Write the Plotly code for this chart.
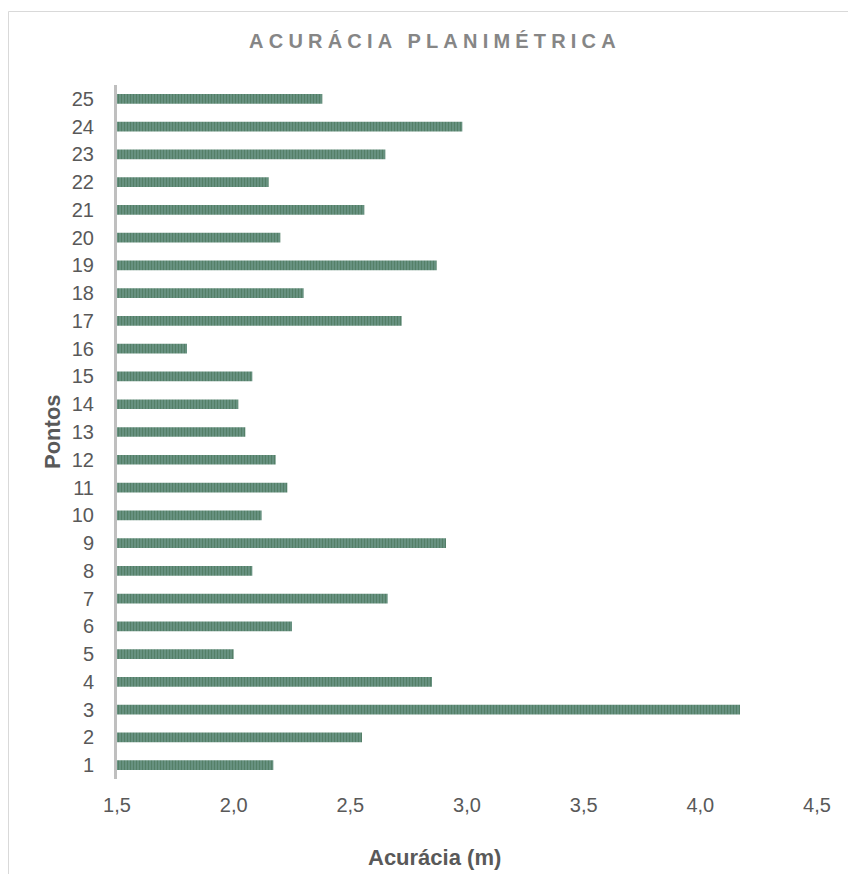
import plotly.graph_objects as go

pontos = list(range(1, 26))
acuracia = [2.17, 2.55, 4.17, 2.85, 2.00, 2.25, 2.66, 2.08, 2.91, 2.12,
            2.23, 2.18, 2.05, 2.02, 2.08, 1.80, 2.72, 2.30, 2.87, 2.20,
            2.56, 2.15, 2.65, 2.98, 2.38]
x_ticks = [1.5, 2.0, 2.5, 3.0, 3.5, 4.0, 4.5]

fig = go.Figure()
fig.add_trace(go.Bar(
    x=acuracia, y=pontos, orientation="h", width=0.35,
    marker=dict(color="#6a9484", line=dict(width=0),
                pattern=dict(shape="|", fgcolor="#3e6a4a", bgcolor="#6a9484",
                             size=3, solidity=0.45)),
    hoverinfo="x+y", showlegend=False,
))

font_fam = "Liberation Sans, Arial, sans-serif"
L, R, T, B = 117, 31, 85, 95
W, H = 848, 874
pw, ph = W - L - R, H - T - B

fig.update_layout(
    width=W, height=H,
    margin=dict(l=L, r=R, t=T, b=B),
    paper_bgcolor="white", plot_bgcolor="white",
    separators=",.",
    title=dict(text="ACURÁCIA PLANIMÉTRICA", x=435/W, xanchor="center",
               y=1 - 41/H, yanchor="middle",
               font=dict(family=font_fam, size=20, color="#868686", weight="bold")),
    font=dict(family=font_fam, color="#595959"),
)
fig.update_xaxes(range=[1.5, 4.5], tickvals=x_ticks, tickformat=".1f",
                 showgrid=False, zeroline=False, showline=False,
                 ticks="", ticklabelstandoff=12,
                 tickfont=dict(size=20, color="#595959"))
fig.update_yaxes(range=[0.5, 25.5], tickvals=pontos, showgrid=False, zeroline=False,
                 showline=True, linecolor="#bfbfbf", linewidth=3,
                 ticks="", ticklabelstandoff=16,
                 tickfont=dict(size=20, color="#595959"))

fig.add_annotation(text="Acurácia (m)", xref="paper", yref="paper",
                   x=(434 - L) / pw, y=-(858 - (H - B)) / ph,
                   xanchor="center", yanchor="middle", showarrow=False,
                   font=dict(family=font_fam, size=22, color="#595959", weight="bold"))
fig.add_annotation(text="Pontos", xref="paper", yref="paper", textangle=-90,
                   x=-(L - 52) / pw, y=0.5,
                   xanchor="center", yanchor="middle", showarrow=False,
                   font=dict(family=font_fam, size=22, color="#595959", weight="bold"))

fig.add_shape(type="rect", xref="paper", yref="paper",
              x0=(8.5 - L) / pw, x1=1.2, y0=-0.3, y1=(H - B - 11.5) / ph,
              line=dict(color="#d9d9d9", width=1), layer="below")

post = """
var gd = document.getElementById('{plot_id}');
function ls(){
  gd.querySelectorAll('.gtitle').forEach(function(e){
    e.setAttribute('letter-spacing', '5.2px');
    e.style.letterSpacing = '5.2px';
  });
}
ls();
gd.on('plotly_afterplot', ls);
"""
fig.write_html("out.html", post_script=post)
